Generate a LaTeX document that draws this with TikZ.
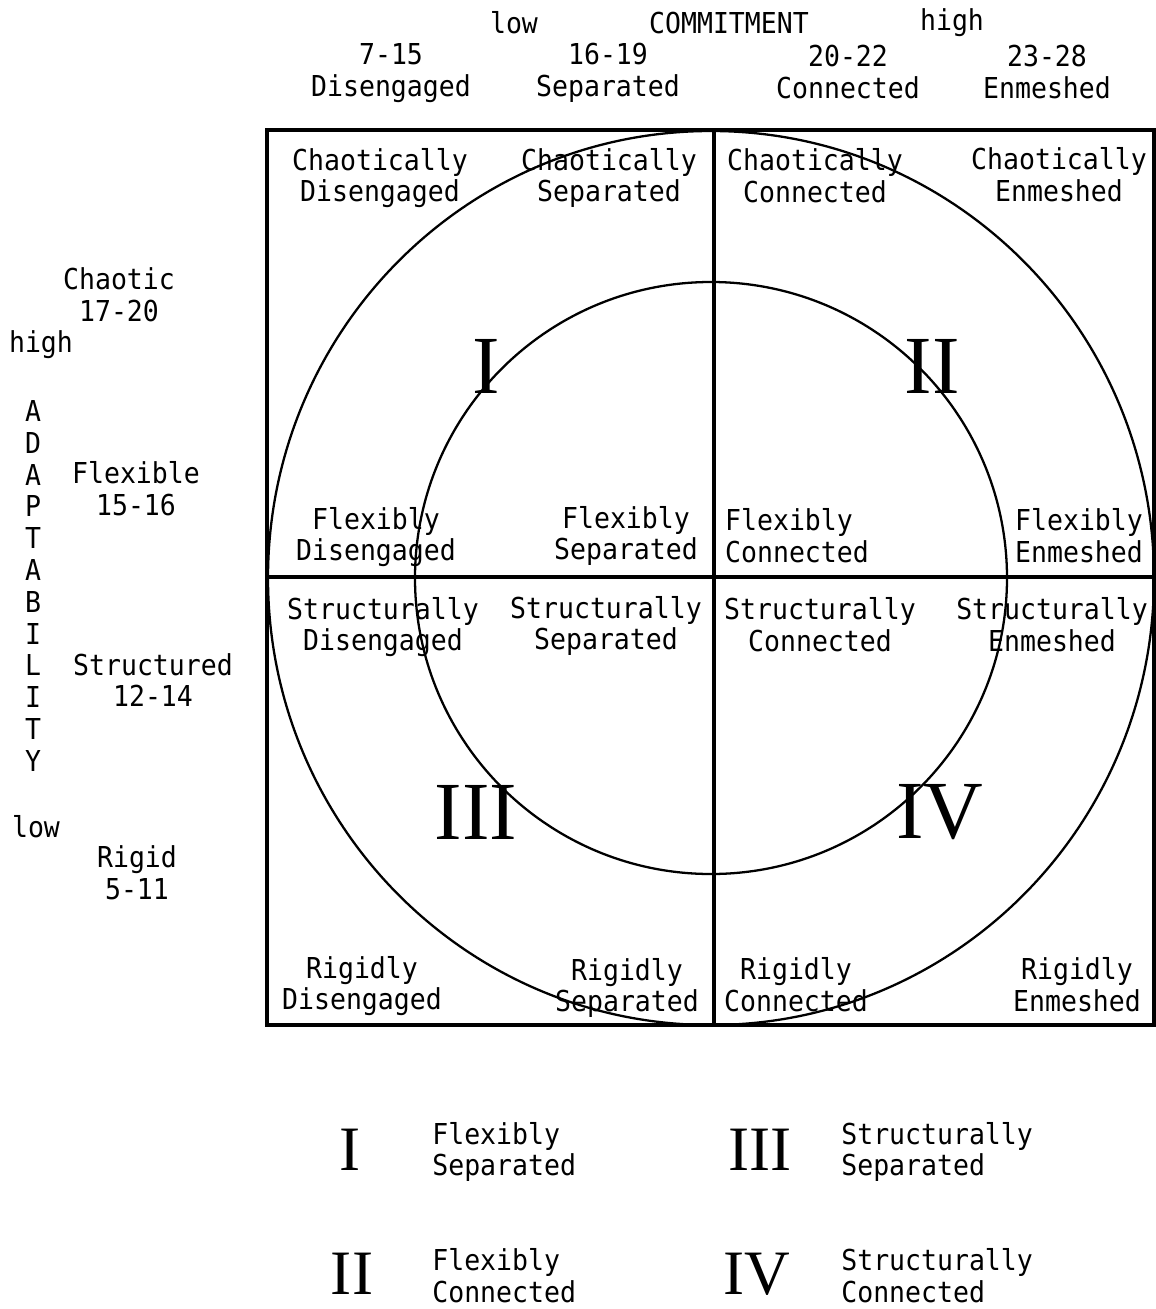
\documentclass[tikz,border=0pt]{standalone}
\usepackage{fontspec}
\setmonofont[FakeStretch=0.92]{DejaVu Sans Mono}
\newfontfamily\romanfont{Liberation Serif}

\begin{document}
\begin{tikzpicture}[x=0.02cm, y=-0.02cm]
\tikzstyle{cellText} = [
  align=center,
  inner sep=0pt,
  font=\ttfamily\fontsize{16.4}{18.1}\selectfont
]
\tikzstyle{keyText} = [
  cellText,
  align=left,
  anchor=west
]
\tikzstyle{numeral} = [
  inner sep=0pt,
  font=\romanfont\fontsize{47}{47}\selectfont
]
\tikzstyle{keyNumeral} = [
  inner sep=0pt,
  font=\romanfont\fontsize{36}{36}\selectfont
]
\tikzstyle{frame} = [
  draw = black,
  line width = 1.8pt
]
\tikzstyle{ring} = [
  draw = black,
  line width = 1.3pt
]

\useasboundingbox (0,0) rectangle (1156,1309);

% grid corners
\coordinate (tl) at (267,130);
\coordinate (br) at (1154,1025);
\coordinate (midTop) at (714,130);
\coordinate (midBot) at (714,1025);
\coordinate (midL) at (267,577);
\coordinate (midR) at (1154,577);

\draw[frame] (tl) rectangle (br);
\draw[frame] (midTop) -- (midBot);
\draw[frame] (midL) -- (midR);

% the two rings
\draw[ring] (711,578) ellipse [x radius=443, y radius=447];
\draw[ring] (711,578) circle [radius=296];

% commitment axis
\node[cellText] (lowC) at (514,23) {low};
\node[cellText] (commit) at (729,23) {COMMITMENT};
\node[cellText] (highC) at (952,23) {high};
\node[cellText] (colA) at (391,73) {7-15\\Disengaged};
\node[cellText] (colB) at (608,73) {16-19\\Separated};
\node[cellText] (colC) at (848,72) {20-22\\Connected};
\node[cellText] (colD) at (1047,72) {23-28\\Enmeshed};

% adaptability axis
\node[cellText] (rowA) at (119,295) {Chaotic\\17-20};
\node[cellText] (highA) at (41,345) {high};
\foreach \ch [count=\i from 0] in {A,D,A,P,T,A,B,I,L,I,T,Y}
  \node[cellText] (adapt\i) at (33,411+31.8*\i) {\ch};
\node[cellText] (rowB) at (136,489) {Flexible\\15-16};
\node[cellText] (rowC) at (153,680) {Structured\\12-14};
\node[cellText] (lowA) at (36,827) {low};
\node[cellText] (rowD) at (137,873) {Rigid\\5-11};

% sixteen cells
\node[cellText] (c11) at (380,178) {Chaotically\\Disengaged};
\node[cellText] (c12) at (609,178) {Chaotically\\Separated};
\node[cellText] (c13) at (815,176) {Chaotically\\Connected};
\node[cellText] (c14) at (1059,175) {Chaotically\\Enmeshed};

\node[cellText] (c21) at (376,537) {Flexibly\\Disengaged};
\node[cellText] (c22) at (626,536) {Flexibly\\Separated};
\node[cellText, align=left] (c23) at (797,536) {Flexibly\\Connected};
\node[cellText] (c24) at (1079,536) {Flexibly\\Enmeshed};

\node[cellText] (c31) at (383,627) {Structurally\\Disengaged};
\node[cellText] (c32) at (606,626) {Structurally\\Separated};
\node[cellText] (c33) at (820,625) {Structurally\\Connected};
\node[cellText] (c34) at (1052,625) {Structurally\\Enmeshed};

\node[cellText] (c41) at (362,986) {Rigidly\\Disengaged};
\node[cellText] (c42) at (627,988) {Rigidly\\Separated};
\node[cellText] (c43) at (796,985) {Rigidly\\Connected};
\node[cellText] (c44) at (1077,985) {Rigidly\\Enmeshed};

% quadrant numerals
\node[numeral] (qI) at (486,366) {I};
\node[numeral] (qII) at (932,366) {II};
\node[numeral] (qIII) at (476,812) {III};
\node[numeral] (qIV) at (940,812) {IV};

% key
\node[keyNumeral] (kI) at (350,1150) {I};
\node[keyText] (kIt) at (432,1152) {Flexibly\\Separated};
\node[keyNumeral] (kIII) at (760,1150) {III};
\node[keyText] (kIIIt) at (841,1152) {Structurally\\Separated};
\node[keyNumeral] (kII) at (352,1274) {II};
\node[keyText] (kIIt) at (432,1276) {Flexibly\\Connected};
\node[keyNumeral] (kIV) at (757,1274) {IV};
\node[keyText] (kIVt) at (841,1276) {Structurally\\Connected};

\end{tikzpicture}
\end{document}
